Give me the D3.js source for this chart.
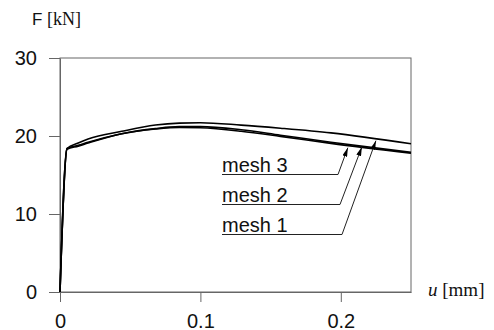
<!DOCTYPE html>
<html>
<head>
<meta charset="utf-8">
<script src="https://cdn.jsdelivr.net/npm/d3@7"></script>
<style>
  body { margin: 0; background: #fff; }
  svg { display: block; }
  .sans { font-family: "Liberation Sans", Arial, Helvetica, sans-serif; }
  .serif { font-family: "Liberation Serif", "Times New Roman", serif; }
</style>
</head>
<body>
<div id="chart"></div>
<script>
// displacement u [mm] and force F [kN]
const uMesh1 = [0, 0.005, 0.013, 0.02, 0.044, 0.068, 0.085, 0.1, 0.129, 0.157, 0.193, 0.25];
const fMesh1 = [0, 18.4, 19.1, 19.6, 20.6, 21.4, 21.65, 21.7, 21.4, 21.0, 20.4, 19.0];
const uMesh2 = [0, 0.005, 0.013, 0.02, 0.044, 0.068, 0.085, 0.1, 0.129, 0.157, 0.193, 0.25];
const fMesh2 = [0, 18.4, 18.8, 19.2, 20.3, 20.95, 21.2, 21.2, 20.8, 20.1, 19.2, 17.9];
const uMesh3 = [0, 0.005, 0.013, 0.02, 0.044, 0.068, 0.085, 0.1, 0.129, 0.157, 0.193, 0.25];
const fMesh3 = [0, 18.3, 18.7, 19.1, 20.3, 20.9, 21.1, 21.05, 20.6, 19.95, 19.05, 17.8];

const xTicks = [0, 0.1, 0.2];
const yTicks = [0, 10, 20, 30];

// label text, and the point on the curve each arrow points to
const labels = ['mesh 3', 'mesh 2', 'mesh 1'];
const arrowU = [0.205, 0.215, 0.225];
const arrowF = [18.5, 18.6, 19.4];

const width = 494;
const height = 330;
const margin = { top: 58, right: 83, bottom: 38, left: 60 };
const plotW = width - margin.left - margin.right;
const plotH = height - margin.top - margin.bottom;

const svg = d3.select('#chart')
  .append('svg')
    .attr('width', width)
    .attr('height', height);

const x = d3.scaleLinear().domain([0, 0.25]).range([0, plotW]);
const y = d3.scaleLinear().domain([0, 30]).range([plotH, 0]);

const g = svg.append('g')
  .attr('transform', `translate(${margin.left},${margin.top})`);

// frame
g.append('rect')
  .attr('x', 0)
  .attr('y', 0)
  .attr('width', plotW)
  .attr('height', plotH)
  .attr('fill', 'none')
  .attr('stroke', '#666')
  .attr('stroke-width', 1);

// y axis
const axisY = d3.axisLeft(y)
  .tickValues(yTicks)
  .tickSize(11)
  .tickSizeOuter(0)
  .tickPadding(12)
  .tickFormat(d3.format('d'));

const gy = g.append('g').call(axisY);
gy.select('.domain').attr('stroke', '#666');
gy.selectAll('.tick line').attr('stroke', '#666');
gy.selectAll('.tick text')
  .attr('class', 'sans')
  .attr('font-size', 20)
  .attr('fill', '#111');

// x axis
const axisX = d3.axisBottom(x)
  .tickValues(xTicks)
  .tickSize(10)
  .tickSizeOuter(0)
  .tickPadding(12)
  .tickFormat(d => (d === 0 ? '0' : d3.format('.1f')(d)));

const gx = g.append('g')
  .attr('transform', `translate(0,${plotH})`)
  .call(axisX);
gx.select('.domain').attr('stroke', '#666');
gx.selectAll('.tick line').attr('stroke', '#666');
gx.selectAll('.tick text')
  .attr('class', 'sans')
  .attr('font-size', 20)
  .attr('fill', '#111');

// axis titles
const fTitle = svg.append('text')
  .attr('x', 32)
  .attr('y', 25)
  .attr('fill', '#111');
fTitle.append('tspan').attr('class', 'sans').attr('font-size', 17).text('F ');
fTitle.append('tspan').attr('class', 'serif').attr('font-size', 18).text('[kN]');

const uTitle = svg.append('text')
  .attr('x', 428)
  .attr('y', 296)
  .attr('class', 'serif')
  .attr('font-size', 19)
  .attr('fill', '#111');
uTitle.append('tspan').attr('font-style', 'italic').text('u');
uTitle.append('tspan').text(' [mm]');

// curves
const line = d3.line()
  .x(d => x(d[0]))
  .y(d => y(d[1]))
  .curve(d3.curveMonotoneX);

const series = [
  d3.zip(uMesh1, fMesh1),
  d3.zip(uMesh2, fMesh2),
  d3.zip(uMesh3, fMesh3),
];

g.selectAll('.curve')
  .data(series)
  .enter()
  .append('path')
    .attr('class', 'curve')
    .attr('d', line)
    .attr('fill', 'none')
    .attr('stroke', '#000')
    .attr('stroke-width', 1.6)
    .attr('stroke-linejoin', 'round');

// labels with leader lines and arrows
svg.append('defs')
  .append('marker')
    .attr('id', 'arrow')
    .attr('viewBox', '0 0 10 6')
    .attr('refX', 10)
    .attr('refY', 3)
    .attr('markerWidth', 9)
    .attr('markerHeight', 5)
    .attr('preserveAspectRatio', 'none')
    .attr('markerUnits', 'userSpaceOnUse')
    .attr('orient', 'auto')
  .append('path')
    .attr('d', 'M0,0L10,3L0,6Z')
    .attr('fill', '#000');

const labelX = 222;
const labelBase = 172;
const labelStep = 30;
const underEnd = [338, 340, 342];

labels.forEach((txt, i) => {
  const by = labelBase + i * labelStep;
  svg.append('text')
    .attr('class', 'sans')
    .attr('x', labelX)
    .attr('y', by)
    .attr('font-size', 20)
    .attr('fill', '#111')
    .text(txt);

  const tipX = margin.left + x(arrowU[i]);
  const tipY = margin.top + y(arrowF[i]);
  svg.append('polyline')
    .attr('points', `${labelX},${by + 2.5} ${underEnd[i]},${by + 2.5} ${tipX},${tipY}`)
    .attr('fill', 'none')
    .attr('stroke', '#222')
    .attr('stroke-width', 1)
    .attr('marker-end', 'url(#arrow)');
});
</script>
</body>
</html>
